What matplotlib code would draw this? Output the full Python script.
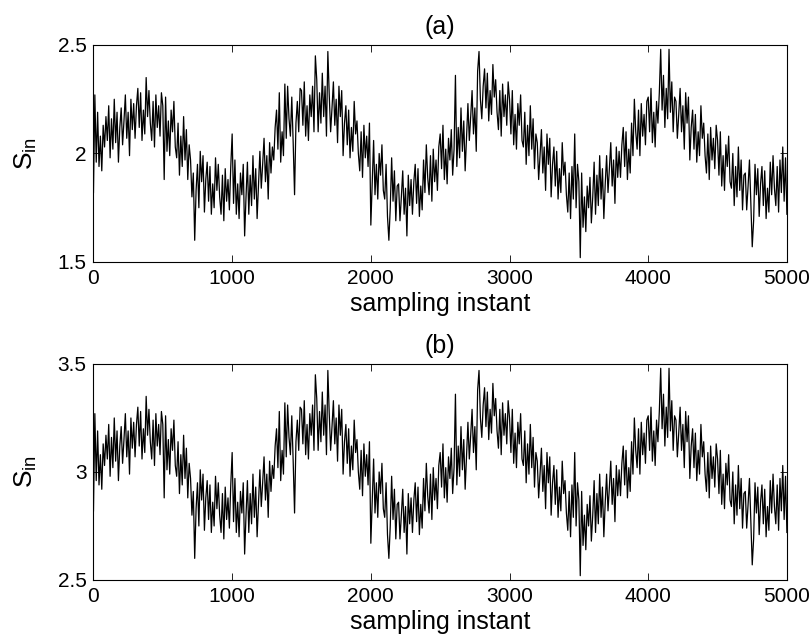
import numpy as np
import matplotlib.pyplot as plt

plt.rcParams['font.family'] = ['Liberation Sans', 'DejaVu Sans']
plt.rcParams['mathtext.fontset'] = 'custom'
plt.rcParams['mathtext.rm'] = 'Liberation Sans'
plt.rcParams['mathtext.it'] = 'Liberation Sans'

# sampling instants (every 10 samples)
samples = np.arange(0, 5001, 10)

# S_in, one row per 100 samples
s_in_a = [
    1.82, 2.27, 1.96, 2.19, 1.94, 2.08, 1.92, 2.13, 2.03, 2.17,
    2.06, 2.22, 1.98, 2.16, 2.02, 2.25, 2.05, 2.19, 1.96, 2.12,
    2.21, 2.04, 2.15, 2.27, 2.07, 2.19, 1.99, 2.25, 2.11, 2.23,
    2.07, 2.22, 2.30, 2.12, 2.28, 2.06, 2.20, 2.09, 2.35, 2.17,
    2.29, 2.14, 2.06, 2.24, 2.03, 2.27, 2.12, 2.22, 2.08, 2.28,
    2.22, 1.88, 2.26, 2.01, 2.15, 1.99, 2.20, 2.10, 2.24, 2.03,
    1.98, 2.14, 1.90, 2.08, 1.94, 2.17, 1.97, 2.11, 1.88, 2.04,
    1.97, 1.80, 1.91, 1.60, 1.83, 1.95, 1.75, 2.01, 1.87, 1.99,
    1.73, 1.88, 1.96, 1.78, 1.94, 1.72, 1.86, 1.75, 1.98, 1.83,
    1.95, 1.80, 1.72, 1.90, 1.69, 1.93, 1.78, 1.88, 1.74, 1.94,
    2.09, 1.77, 1.97, 1.72, 1.86, 1.70, 1.91, 1.81, 1.95, 1.62,
    1.80, 1.96, 1.72, 1.90, 1.76, 1.99, 1.79, 1.93, 1.70, 1.86,
    2.01, 1.84, 1.95, 2.07, 1.87, 1.99, 1.79, 2.05, 1.91, 2.03,
    1.97, 2.12, 2.20, 2.02, 2.28, 1.96, 2.10, 1.99, 2.32, 2.07,
    2.31, 2.16, 2.08, 2.26, 2.05, 1.81, 2.14, 2.24, 2.10, 2.30,
    2.29, 2.13, 2.33, 2.08, 2.22, 2.06, 2.27, 2.17, 2.31, 2.10,
    2.45, 2.34, 2.10, 2.28, 2.14, 2.37, 2.17, 2.31, 2.08, 2.47,
    2.27, 2.10, 2.21, 2.33, 2.13, 2.25, 2.05, 2.31, 2.17, 2.29,
    1.99, 2.14, 2.22, 2.04, 2.20, 1.98, 2.12, 2.01, 2.24, 2.09,
    2.15, 2.00, 1.92, 2.10, 1.89, 2.13, 1.98, 2.08, 1.94, 2.14,
    1.67, 1.86, 2.06, 1.81, 1.95, 1.79, 2.00, 1.90, 2.04, 1.83,
    1.79, 1.95, 1.71, 1.60, 1.75, 1.98, 1.78, 1.92, 1.69, 1.85,
    1.86, 1.69, 1.80, 1.92, 1.72, 1.84, 1.62, 1.90, 1.76, 1.88,
    1.72, 1.87, 1.95, 1.77, 1.93, 1.71, 1.85, 1.74, 1.97, 1.82,
    2.04, 1.89, 1.81, 1.99, 1.78, 2.02, 1.87, 1.97, 1.83, 2.03,
    2.09, 1.93, 2.13, 1.88, 2.02, 1.86, 2.07, 1.97, 2.11, 1.90,
    2.02, 2.36, 1.94, 2.12, 1.98, 2.21, 2.01, 2.15, 1.92, 2.08,
    2.23, 2.06, 2.17, 2.29, 2.09, 2.21, 2.01, 2.38, 2.47, 2.25,
    2.16, 2.31, 2.39, 2.21, 2.37, 2.15, 2.29, 2.18, 2.41, 2.26,
    2.34, 2.19, 2.11, 2.29, 2.08, 2.32, 2.17, 2.27, 2.13, 2.33,
    2.25, 2.09, 2.29, 2.04, 2.18, 2.02, 2.23, 2.13, 2.27, 2.06,
    2.03, 2.19, 1.95, 2.13, 1.99, 2.22, 2.02, 2.16, 1.93, 2.09,
    2.05, 1.88, 1.99, 2.11, 1.91, 2.03, 1.83, 2.09, 1.95, 2.07,
    1.80, 1.95, 2.03, 1.85, 2.01, 1.79, 1.93, 1.82, 2.05, 1.90,
    1.96, 1.81, 1.73, 1.91, 1.70, 1.94, 1.79, 2.09, 1.75, 1.95,
    1.87, 1.52, 1.91, 1.66, 1.80, 1.64, 1.85, 1.75, 1.89, 1.68,
    1.80, 1.96, 1.72, 1.90, 1.76, 1.99, 1.79, 1.93, 1.70, 1.86,
    1.99, 1.82, 1.93, 2.05, 1.85, 1.97, 1.77, 2.03, 1.89, 2.01,
    1.89, 2.04, 2.12, 1.94, 2.10, 1.88, 2.02, 1.91, 2.14, 1.99,
    2.25, 2.10, 2.02, 2.20, 1.99, 2.23, 2.08, 2.18, 2.04, 2.24,
    2.26, 2.10, 2.30, 2.05, 2.19, 2.03, 2.24, 2.14, 2.28, 2.48,
    2.20, 2.36, 2.12, 2.30, 2.16, 2.48, 2.19, 2.33, 2.10, 2.26,
    2.24, 2.07, 2.18, 2.30, 2.10, 2.22, 2.02, 2.28, 2.14, 2.26,
    1.97, 2.12, 2.20, 2.02, 2.18, 1.96, 2.10, 1.99, 2.22, 2.07,
    2.14, 1.99, 1.91, 2.09, 1.88, 2.12, 1.97, 2.07, 1.93, 2.13,
    2.06, 1.90, 2.10, 1.85, 1.99, 1.83, 2.04, 1.94, 2.08, 1.87,
    1.84, 2.00, 1.76, 1.94, 1.80, 2.03, 1.83, 1.97, 1.74, 1.90,
    1.91, 1.74, 1.85, 1.97, 1.77, 1.57, 1.69, 1.95, 1.81, 1.93,
    1.71, 1.86, 1.94, 1.76, 1.92, 1.70, 1.84, 1.73, 1.96, 1.81,
    1.99, 1.84, 1.76, 1.94, 1.73, 1.97, 1.82, 2.03, 1.78, 1.98,
    1.72,
]

# S_in, one row per 100 samples
s_in_b = [
    2.82, 3.27, 2.96, 3.19, 2.94, 3.08, 2.92, 3.13, 3.03, 3.17,
    3.06, 3.22, 2.98, 3.16, 3.02, 3.25, 3.05, 3.19, 2.96, 3.12,
    3.21, 3.04, 3.15, 3.27, 3.07, 3.19, 2.99, 3.25, 3.11, 3.23,
    3.07, 3.22, 3.30, 3.12, 3.28, 3.06, 3.20, 3.09, 3.35, 3.17,
    3.29, 3.14, 3.06, 3.24, 3.03, 3.27, 3.12, 3.22, 3.08, 3.28,
    3.22, 2.88, 3.26, 3.01, 3.15, 2.99, 3.20, 3.10, 3.24, 3.03,
    2.98, 3.14, 2.90, 3.08, 2.94, 3.17, 2.97, 3.11, 2.88, 3.04,
    2.97, 2.80, 2.91, 2.60, 2.83, 2.95, 2.75, 3.01, 2.87, 2.99,
    2.73, 2.88, 2.96, 2.78, 2.94, 2.72, 2.86, 2.75, 2.98, 2.83,
    2.95, 2.80, 2.72, 2.90, 2.69, 2.93, 2.78, 2.88, 2.74, 2.94,
    3.09, 2.77, 2.97, 2.72, 2.86, 2.70, 2.91, 2.81, 2.95, 2.62,
    2.80, 2.96, 2.72, 2.90, 2.76, 2.99, 2.79, 2.93, 2.70, 2.86,
    3.01, 2.84, 2.95, 3.07, 2.87, 2.99, 2.79, 3.05, 2.91, 3.03,
    2.97, 3.12, 3.20, 3.02, 3.28, 2.96, 3.10, 2.99, 3.32, 3.07,
    3.31, 3.16, 3.08, 3.26, 3.05, 2.81, 3.14, 3.24, 3.10, 3.30,
    3.29, 3.13, 3.33, 3.08, 3.22, 3.06, 3.27, 3.17, 3.31, 3.10,
    3.45, 3.34, 3.10, 3.28, 3.14, 3.37, 3.17, 3.31, 3.08, 3.47,
    3.27, 3.10, 3.21, 3.33, 3.13, 3.25, 3.05, 3.31, 3.17, 3.29,
    2.99, 3.14, 3.22, 3.04, 3.20, 2.98, 3.12, 3.01, 3.24, 3.09,
    3.15, 3.00, 2.92, 3.10, 2.89, 3.13, 2.98, 3.08, 2.94, 3.14,
    2.67, 2.86, 3.06, 2.81, 2.95, 2.79, 3.00, 2.90, 3.04, 2.83,
    2.79, 2.95, 2.71, 2.60, 2.75, 2.98, 2.78, 2.92, 2.69, 2.85,
    2.86, 2.69, 2.80, 2.92, 2.72, 2.84, 2.62, 2.90, 2.76, 2.88,
    2.72, 2.87, 2.95, 2.77, 2.93, 2.71, 2.85, 2.74, 2.97, 2.82,
    3.04, 2.89, 2.81, 2.99, 2.78, 3.02, 2.87, 2.97, 2.83, 3.03,
    3.09, 2.93, 3.13, 2.88, 3.02, 2.86, 3.07, 2.97, 3.11, 2.90,
    3.02, 3.36, 2.94, 3.12, 2.98, 3.21, 3.01, 3.15, 2.92, 3.08,
    3.23, 3.06, 3.17, 3.29, 3.09, 3.21, 3.01, 3.38, 3.47, 3.25,
    3.16, 3.31, 3.39, 3.21, 3.37, 3.15, 3.29, 3.18, 3.41, 3.26,
    3.34, 3.19, 3.11, 3.29, 3.08, 3.32, 3.17, 3.27, 3.13, 3.33,
    3.25, 3.09, 3.29, 3.04, 3.18, 3.02, 3.23, 3.13, 3.27, 3.06,
    3.03, 3.19, 2.95, 3.13, 2.99, 3.22, 3.02, 3.16, 2.93, 3.09,
    3.05, 2.88, 2.99, 3.11, 2.91, 3.03, 2.83, 3.09, 2.95, 3.07,
    2.80, 2.95, 3.03, 2.85, 3.01, 2.79, 2.93, 2.82, 3.05, 2.90,
    2.96, 2.81, 2.73, 2.91, 2.70, 2.94, 2.79, 3.09, 2.75, 2.95,
    2.87, 2.52, 2.91, 2.66, 2.80, 2.64, 2.85, 2.75, 2.89, 2.68,
    2.80, 2.96, 2.72, 2.90, 2.76, 2.99, 2.79, 2.93, 2.70, 2.86,
    2.99, 2.82, 2.93, 3.05, 2.85, 2.97, 2.77, 3.03, 2.89, 3.01,
    2.89, 3.04, 3.12, 2.94, 3.10, 2.88, 3.02, 2.91, 3.14, 2.99,
    3.25, 3.10, 3.02, 3.20, 2.99, 3.23, 3.08, 3.18, 3.04, 3.24,
    3.26, 3.10, 3.30, 3.05, 3.19, 3.03, 3.24, 3.14, 3.28, 3.48,
    3.20, 3.36, 3.12, 3.30, 3.16, 3.48, 3.19, 3.33, 3.10, 3.26,
    3.24, 3.07, 3.18, 3.30, 3.10, 3.22, 3.02, 3.28, 3.14, 3.26,
    2.97, 3.12, 3.20, 3.02, 3.18, 2.96, 3.10, 2.99, 3.22, 3.07,
    3.14, 2.99, 2.91, 3.09, 2.88, 3.12, 2.97, 3.07, 2.93, 3.13,
    3.06, 2.90, 3.10, 2.85, 2.99, 2.83, 3.04, 2.94, 3.08, 2.87,
    2.84, 3.00, 2.76, 2.94, 2.80, 3.03, 2.83, 2.97, 2.74, 2.90,
    2.91, 2.74, 2.85, 2.97, 2.77, 2.57, 2.69, 2.95, 2.81, 2.93,
    2.71, 2.86, 2.94, 2.76, 2.92, 2.70, 2.84, 2.73, 2.96, 2.81,
    2.99, 2.84, 2.76, 2.94, 2.73, 2.97, 2.82, 3.03, 2.78, 2.98,
    2.72,
]

fig = plt.figure(figsize=(8.12, 6.41), dpi=100)
ax1 = fig.add_axes([0.1151, 0.5913, 0.854, 0.3385])
ax2 = fig.add_axes([0.1151, 0.0952, 0.854, 0.337])

panels = [(ax1, s_in_a, '(a)', [1.5, 2, 2.5], ['1.5', '2', '2.5']),
          (ax2, s_in_b, '(b)', [2.5, 3, 3.5], ['2.5', '3', '3.5'])]

for ax, vals, title, yt, ytl in panels:
    ax.plot(samples, vals, color='black', lw=0.9)
    ax.set_xlim(0, 5000)
    ax.set_ylim(yt[0], yt[-1])
    ax.set_xticks([0, 1000, 2000, 3000, 4000, 5000])
    ax.set_yticks(yt)
    ax.set_yticklabels(ytl)
    ax.tick_params(direction='in', length=5, width=0.6, top=True, right=True,
                   labelsize=15, pad=5)
    for sp in ax.spines.values():
        sp.set_linewidth(0.8)
    ax.set_title(title, fontsize=18, pad=8)
    ax.set_xlabel('sampling instant', fontsize=18, labelpad=3)
    ax.set_ylabel(r'S$_{\rm in}$', fontsize=19, labelpad=13)

fig.savefig('out.png', dpi=100)
